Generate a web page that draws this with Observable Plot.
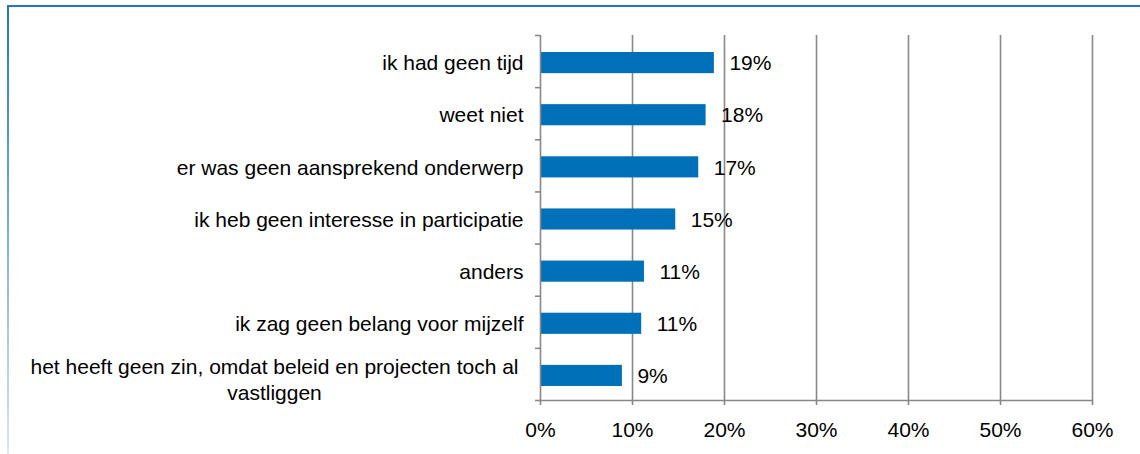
<!DOCTYPE html>
<html>
<head>
<meta charset="utf-8">
<script src="https://cdn.jsdelivr.net/npm/d3@7"></script>
<script src="https://cdn.jsdelivr.net/npm/@observablehq/plot@0.6"></script>
<style>
  html, body { margin: 0; padding: 0; background: #fff; }
  #wrap { position: relative; width: 1140px; height: 454px; overflow: hidden; }
  #topline { position: absolute; top: 5px; left: 7px; right: 0; height: 2px; background: #1f76c8; }
  #leftline { position: absolute; top: 5px; left: 7px; width: 2px; bottom: 0; background: linear-gradient(#1f76c8, #dce5f3); }
  #wrap svg { position: absolute; top: 0; left: 0; }
</style>
</head>
<body>
<div id="wrap"><div id="topline"></div><div id="leftline"></div></div>
<script>
const categories = [
  "ik had geen tijd",
  "weet niet",
  "er was geen aansprekend onderwerp",
  "ik heb geen interesse in participatie",
  "anders",
  "ik zag geen belang voor mijzelf",
  "het heeft geen zin, omdat beleid en projecten toch al\nvastliggen"
];
const values = [18.9, 18.0, 17.2, 14.7, 11.3, 11.0, 8.9];
const valueLabels = ["19%", "18%", "17%", "15%", "11%", "11%", "9%"];
const xTicks = [0, 10, 20, 30, 40, 50, 60];

const rows = categories.map((c, i) => ({category: c, value: values[i], label: valueLabels[i], i: i, i1: i + 1, multi: c.includes("\n")}));
const boundaries = d3.range(categories.length + 1);

const plot = Plot.plot({
  width: 1140,
  height: 454,
  marginLeft: 540,
  marginRight: 48,
  marginTop: 35,
  marginBottom: 54,
  style: {fontFamily: "'Liberation Sans', Arial, sans-serif", fontSize: "21px", color: "#000", background: "transparent", overflow: "visible"},
  x: {domain: [0, 60], label: null},
  y: {domain: [0, categories.length], reverse: true, axis: null, label: null},
  marks: [
    Plot.gridX(xTicks.filter(t => t > 0), {stroke: "#888", strokeOpacity: 1, strokeWidth: 1.6}),
    Plot.rectX(rows, {x1: 0, x2: "value", y1: "i", y2: "i1", insetTop: 17, insetBottom: 14, fill: "#0070b8"}),
    Plot.ruleX([0], {stroke: "#888", strokeWidth: 1.6}),
    Plot.ruleY([categories.length], {x1: 0, x2: 60, stroke: "#888", strokeWidth: 1.6}),
    Plot.axisY({ticks: boundaries, tickSize: 5, tickFormat: () => "", stroke: "#888", strokeWidth: 1.6, label: null}),
    Plot.axisX({ticks: xTicks, tickSize: 5, tickPadding: 17, tickFormat: d => d + "%", stroke: "#888", strokeWidth: 1.6, fill: "#000", fontSize: 21, label: null}),
    Plot.text(rows, {x: "value", y: d => d.i + 0.5, text: "label", textAnchor: "start", dx: 15, dy: 2, fill: "#000", fontSize: 21}),
    Plot.text(rows.filter(d => !d.multi), {frameAnchor: "left", y: d => d.i + 0.5, text: "category", textAnchor: "end", dx: -17, dy: 2, fill: "#000", fontSize: 21}),
    Plot.text(rows.filter(d => d.multi), {frameAnchor: "left", y: d => d.i + 0.5, text: "category", textAnchor: "middle", dx: -266, dy: 4, lineHeight: 1.25, fill: "#000", fontSize: 21})
  ]
});
document.getElementById("wrap").appendChild(plot);
</script>
</body>
</html>
